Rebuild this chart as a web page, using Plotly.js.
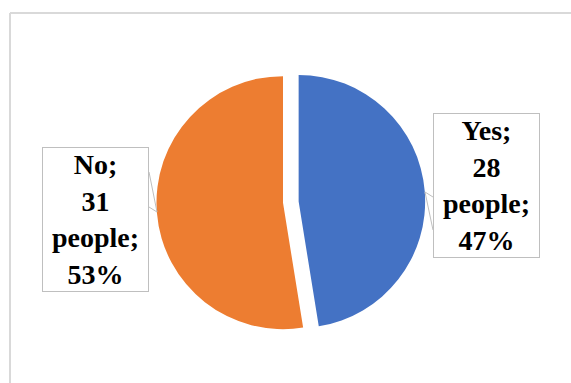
<!DOCTYPE html>
<html>
<head>
<meta charset="utf-8">
<script src="https://cdn.plot.ly/plotly-3.0.1.min.js"></script>
<style>
  html, body { margin: 0; padding: 0; background: #ffffff; }
  #chart { width: 571px; height: 383px; }
</style>
</head>
<body>
<div id="chart"></div>
<script>
// ---- data ----
const categories = ["Yes", "No"];
const counts = [28, 31];
const unitLabel = "people";
const sliceColors = ["#4472C4", "#ED7D31"];
const pulls = [0.124, 0];

// ---- helpers ----
const W = 571, H = 383;
const px = x => x / W;
const py = y => 1 - y / H;
const total = counts.reduce((a, b) => a + b, 0);
const pct = counts.map(v => Math.round(v / total * 100));
const labelText = categories.map((c, i) =>
  "<b>" + [c + ";", String(counts[i]), unitLabel + ";", pct[i] + "%"].join("<br>") + "</b>");

const trace = {
  type: "pie",
  labels: categories,
  values: counts,
  sort: false,
  direction: "clockwise",
  rotation: 0,
  pull: pulls,
  marker: { colors: sliceColors, line: { width: 0 } },
  textinfo: "none",
  hoverinfo: "none",
  showlegend: false,
  domain: { x: [px(140.8), px(425.2)], y: [py(344.9), py(60.5)] }
};

const labelFont = { family: "Liberation Serif, Times New Roman, serif", size: 28, color: "#000000" };
const boxCenters = [[486.5, 185], [95, 219]];
const annotations = categories.map((c, i) => ({
  xref: "paper", yref: "paper",
  x: px(boxCenters[i][0]), y: py(boxCenters[i][1]),
  xanchor: "center", yanchor: "middle",
  text: labelText[i],
  showarrow: false,
  font: labelFont,
  align: "center",
  bgcolor: "#ffffff",
  bordercolor: "#bfbfbf",
  borderwidth: 1,
  borderpad: 2,
  width: 101,
  height: 139
}));

const gray = { color: "#bfbfbf", width: 1 };
const frame = { color: "#d9d9d9", width: 2 };
const seg = (x0, y0, x1, y1, line, layer) => ({
  type: "line", xref: "paper", yref: "paper",
  x0: px(x0), y0: py(y0), x1: px(x1), y1: py(y1), line: line, layer: layer || "above"
});
const shapes = [
  seg(10, 13, 10, 383, frame, "below"),
  seg(10, 13, 571, 13, frame, "below"),
  // callout wedges
  seg(425, 192, 433, 197, gray),
  seg(425, 192, 433, 230, gray),
  seg(157, 212, 149, 172, gray),
  seg(157, 212, 149, 207, gray)
];

const layout = {
  width: W, height: H,
  margin: { l: 0, r: 0, t: 0, b: 0 },
  paper_bgcolor: "#ffffff",
  plot_bgcolor: "#ffffff",
  showlegend: false,
  annotations: annotations,
  shapes: shapes
};

Plotly.newPlot("chart", [trace], layout, { staticPlot: true, displayModeBar: false });
</script>
</body>
</html>
